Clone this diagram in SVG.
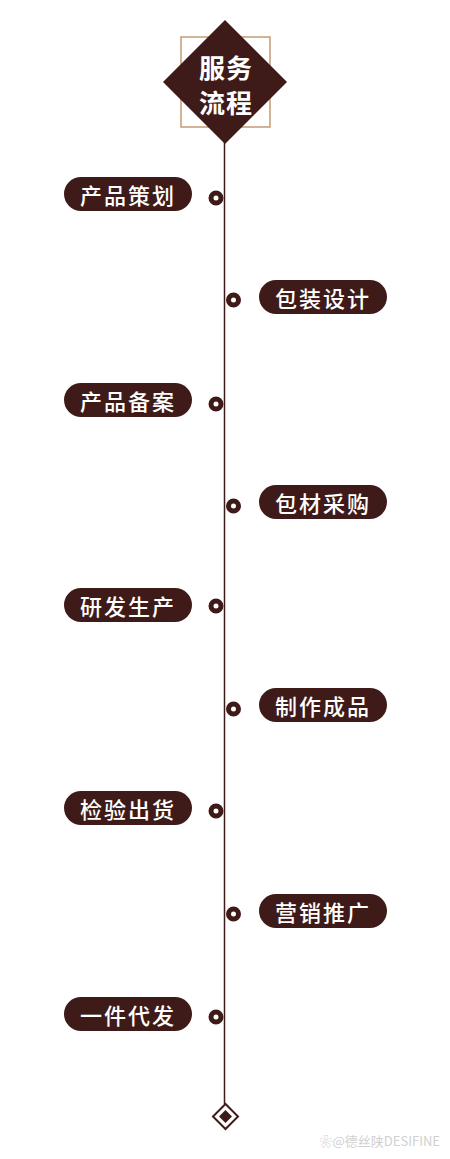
<svg xmlns="http://www.w3.org/2000/svg" width="450" height="1159" viewBox="0 0 450 1159">
<style>
.pill{fill:#3e1b18}
.pt{fill:#fff;font-family:"Noto Sans CJK SC","Noto Sans",sans-serif;font-size:22px;font-weight:500;letter-spacing:2px;text-anchor:middle;dominant-baseline:central}
.ring{fill:#fff;stroke:#3e1b18;stroke-width:5}
.line{stroke:#3e1b18;stroke-width:1.5;fill:none}
</style>
<rect width="450" height="1159" fill="#fff"/>
<g id="connectors">
<line class="line" x1="224.5" y1="140" x2="224.5" y2="1104"/>
</g>
<g id="title">
<rect x="181" y="37" width="89" height="90" fill="none" stroke="#c49a74" stroke-width="1.5"/>
<polygon points="225,20 287,82 225,144 163,82" fill="#3e1b18"/>
<text x="226" y="66" class="pt" style="font-size:26px;font-weight:bold;letter-spacing:1px">服务</text>
<text x="226" y="101" class="pt" style="font-size:26px;font-weight:bold;letter-spacing:1px">流程</text>
</g>
<g id="n1"><rect class="pill" x="64" y="177" width="128" height="34" rx="17"/><text class="pt" x="128" y="194">产品策划</text><circle class="ring" cx="216" cy="198" r="5"/></g>
<g id="n2"><rect class="pill" x="259" y="280" width="128" height="34" rx="17"/><text class="pt" x="323" y="297">包装设计</text><circle class="ring" cx="233.5" cy="300" r="5"/></g>
<g id="n3"><rect class="pill" x="64" y="383" width="128" height="34" rx="17"/><text class="pt" x="128" y="400">产品备案</text><circle class="ring" cx="216" cy="404" r="5"/></g>
<g id="n4"><rect class="pill" x="259" y="485" width="128" height="34" rx="17"/><text class="pt" x="323" y="502">包材采购</text><circle class="ring" cx="233.5" cy="506" r="5"/></g>
<g id="n5"><rect class="pill" x="64" y="588" width="128" height="34" rx="17"/><text class="pt" x="128" y="605">研发生产</text><circle class="ring" cx="216" cy="606" r="5"/></g>
<g id="n6"><rect class="pill" x="259" y="688" width="128" height="34" rx="17"/><text class="pt" x="323" y="705">制作成品</text><circle class="ring" cx="233.5" cy="709" r="5"/></g>
<g id="n7"><rect class="pill" x="64" y="791" width="128" height="34" rx="17"/><text class="pt" x="128" y="808">检验出货</text><circle class="ring" cx="216" cy="811" r="5"/></g>
<g id="n8"><rect class="pill" x="259" y="894" width="128" height="34" rx="17"/><text class="pt" x="323" y="911">营销推广</text><circle class="ring" cx="233.5" cy="914" r="5"/></g>
<g id="n9"><rect class="pill" x="64" y="997" width="128" height="34" rx="17"/><text class="pt" x="128" y="1014">一件代发</text><circle class="ring" cx="216" cy="1017" r="5"/></g>
<g id="end">
<polygon points="225.5,1104 238,1116.5 225.5,1129 213,1116.5" fill="#fff" stroke="#3e1b18" stroke-width="2"/>
<polygon points="225.5,1110 232,1116.5 225.5,1123 219,1116.5" fill="#3e1b18"/>
</g>
<text x="440" y="1146" text-anchor="end" font-family="'Noto Sans CJK SC',sans-serif" font-size="13" fill="#d0d0d0">❀@德丝陕DESIFINE</text>
</svg>
